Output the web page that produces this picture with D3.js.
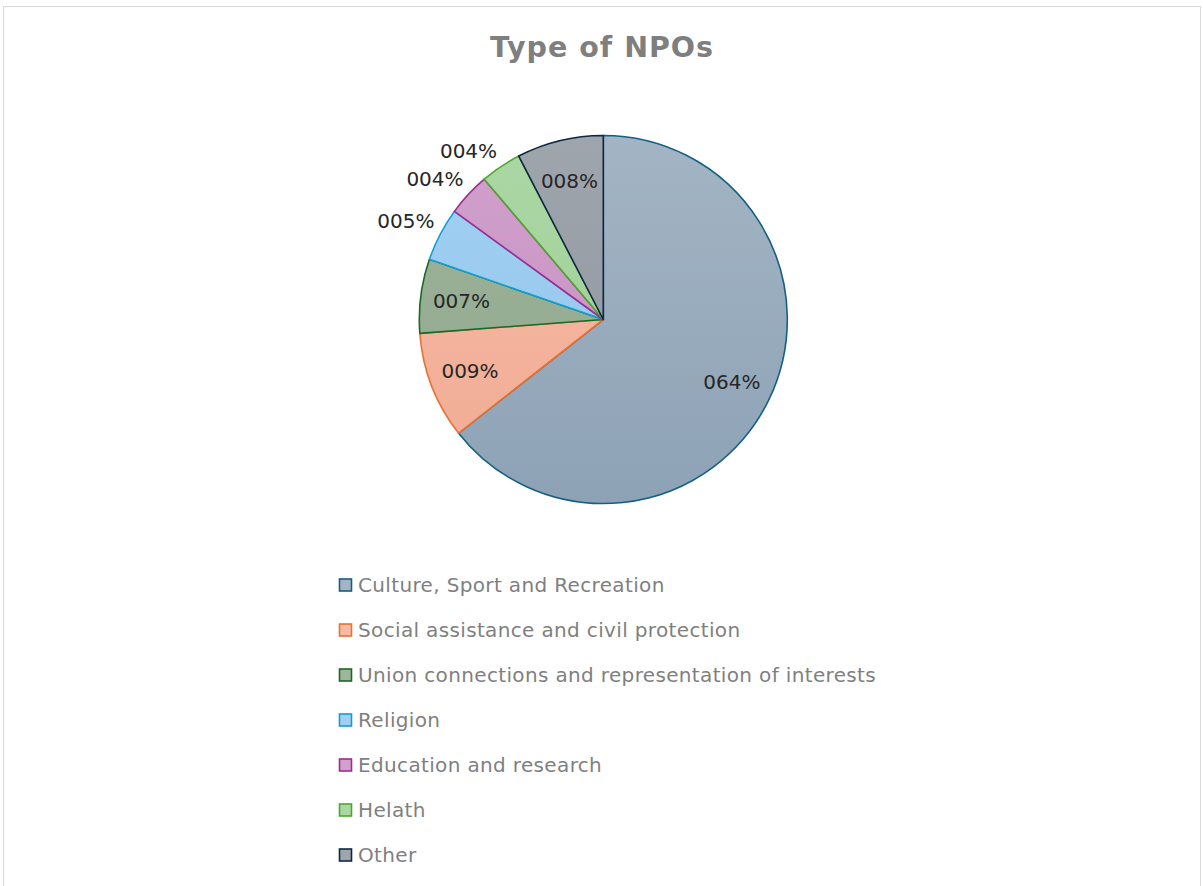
<!DOCTYPE html>
<html>
<head>
<meta charset="utf-8">
<script src="https://cdn.jsdelivr.net/npm/d3@7/dist/d3.min.js"></script>
<style>
  html, body { margin: 0; padding: 0; background: #ffffff; }
  svg { display: block; }
</style>
</head>
<body>
<svg id="chart" width="1203" height="886"></svg>
<script>
// Share of non-profit organisations by type (percent)
const categories = [
  "Culture, Sport and Recreation",
  "Social assistance and civil protection",
  "Union connections and representation of interests",
  "Religion",
  "Education and research",
  "Helath",
  "Other"
];
const shares = [64.4, 9.4, 6.5, 4.7, 3.8, 3.6, 7.6];
const labelPlacement = ["inside", "inside", "inside", "outside", "outside", "outside", "inside"];

// Outline (theme) colours and the lighter fill tints, top -> bottom of the pie
const strokeColors = ["#156082", "#E97132", "#196B24", "#0F9ED5", "#A02B93", "#4EA72E", "#0E2841"];
const fillTop    = ["#a3b5c4", "#f6bba7", "#a0b59e", "#a1d0f2", "#d1a0cb", "#abd7a4", "#9fa5ad"];
const fillBottom = ["#8ea2b6", "#f1ab93", "#8ca68a", "#92c5ec", "#c690c0", "#9dcd95", "#8f959e"];

const cx = 603.3, cy = 319.5, R = 184;
const FONT = "'DejaVu Sans', 'Noto Sans', sans-serif";

const svg = d3.select("#chart");

// chart frame
svg.append("rect")
  .attr("x", 3.5).attr("y", 6.5)
  .attr("width", 1197).attr("height", 890)
  .attr("fill", "#ffffff")
  .attr("stroke", "#d9d9d9")
  .attr("stroke-width", 1);

// title
svg.append("text")
  .attr("x", 602).attr("y", 57)
  .attr("text-anchor", "middle")
  .attr("font-family", FONT)
  .attr("font-weight", 700)
  .attr("font-size", 28.5)
  .attr("letter-spacing", 1)
  .attr("fill", "#7f7f7f")
  .text("Type of NPOs");

// vertical gradients for slice fills (in the pie group's frame)
const defs = svg.append("defs");
categories.forEach((c, i) => {
  const g = defs.append("linearGradient")
    .attr("id", "grad" + i)
    .attr("gradientUnits", "userSpaceOnUse")
    .attr("x1", 0).attr("y1", -R)
    .attr("x2", 0).attr("y2", R);
  g.append("stop").attr("offset", "0%").attr("stop-color", fillTop[i]);
  g.append("stop").attr("offset", "100%").attr("stop-color", fillBottom[i]);
});

const data = categories.map((c, i) => ({ name: c, value: shares[i], idx: i }));

const pie = d3.pie()
  .value(d => d.value)
  .sort(null)
  .startAngle(0)
  .endAngle(2 * Math.PI);

const arcs = pie(data);
const arc = d3.arc().innerRadius(0).outerRadius(R);

const g = svg.append("g").attr("transform", `translate(${cx},${cy})`);

g.selectAll("path.slice")
  .data(arcs)
  .join("path")
  .attr("class", "slice")
  .attr("d", arc)
  .attr("fill", d => `url(#grad${d.data.idx})`)
  .attr("stroke", d => strokeColors[d.data.idx])
  .attr("stroke-width", 1.6)
  .attr("stroke-linejoin", "round");

// data labels
const fmt = v => String(Math.round(v)).padStart(3, "0") + "%";
const insideArc = d3.arc().innerRadius(143).outerRadius(143);
const labelW = 58, labelH = 22;

arcs.forEach(d => {
  const mid = (d.startAngle + d.endAngle) / 2;
  let x, y;
  if (labelPlacement[d.data.idx] === "inside") {
    [x, y] = insideArc.centroid(d);
  } else {
    // box corner nearest to the pie sits just outside the rim
    const r = R + 6;
    const px = r * Math.sin(mid), py = -r * Math.cos(mid);
    x = px + (px < 0 ? -labelW / 2 : labelW / 2);
    y = py + (py < 0 ? -labelH / 2 : labelH / 2);
  }
  g.append("text")
    .attr("x", x).attr("y", y)
    .attr("text-anchor", "middle")
    .attr("dominant-baseline", "central")
    .attr("font-family", FONT)
    .attr("font-size", 20)
    .attr("fill", "#262626")
    .text(fmt(d.data.value));
});

// legend
const legendY = d3.scalePoint()
  .domain(categories)
  .range([585, 855]);

const leg = svg.append("g");
categories.forEach((c, i) => {
  const y = legendY(c);
  leg.append("rect")
    .attr("x", 339.5).attr("y", y - 6)
    .attr("width", 12).attr("height", 12)
    .attr("fill", fillTop[i])
    .attr("stroke", strokeColors[i])
    .attr("stroke-width", 1.6);
  leg.append("text")
    .attr("x", 358).attr("y", y)
    .attr("dominant-baseline", "central")
    .attr("font-family", FONT)
    .attr("font-size", 20)
    .attr("letter-spacing", 0.35)
    .attr("fill", "#7f7f7f")
    .text(c);
});
</script>
</body>
</html>
